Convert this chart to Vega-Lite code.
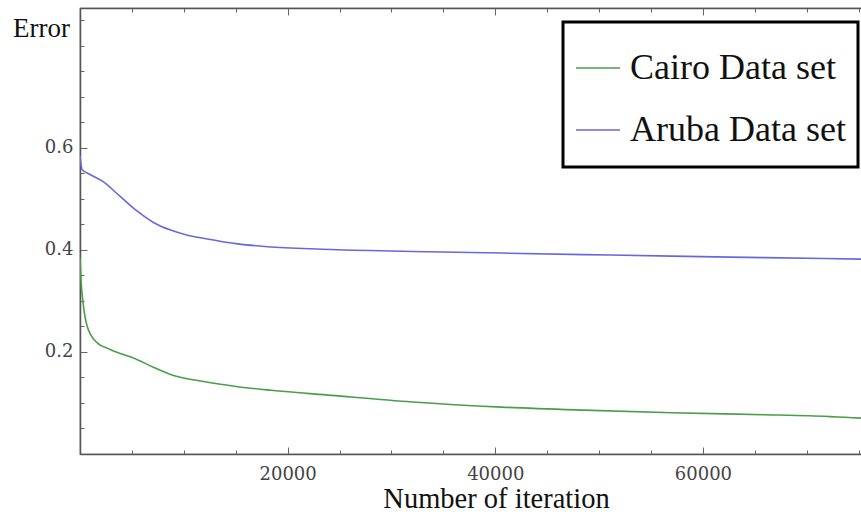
{
  "$schema": "https://vega.github.io/schema/vega-lite/v6.json",
  "width": 789,
  "height": 446,
  "autosize": "none",
  "padding": {"left": 80, "top": 8, "right": 0, "bottom": 66},
  "background": "white",
  "config": {
    "view": {"stroke": "#555555", "strokeWidth": 1.2},
    "font": "Liberation Serif"
  },
  "data": {
    "values": [
      {"series": "Aruba Data set", "iter": 0, "error": 0.585},
      {"series": "Aruba Data set", "iter": 200, "error": 0.558},
      {"series": "Aruba Data set", "iter": 970, "error": 0.548},
      {"series": "Aruba Data set", "iter": 2230, "error": 0.534},
      {"series": "Aruba Data set", "iter": 3870, "error": 0.505},
      {"series": "Aruba Data set", "iter": 5520, "error": 0.476},
      {"series": "Aruba Data set", "iter": 7070, "error": 0.454},
      {"series": "Aruba Data set", "iter": 8720, "error": 0.439},
      {"series": "Aruba Data set", "iter": 10360, "error": 0.429},
      {"series": "Aruba Data set", "iter": 11910, "error": 0.423},
      {"series": "Aruba Data set", "iter": 15200, "error": 0.412},
      {"series": "Aruba Data set", "iter": 18400, "error": 0.406},
      {"series": "Aruba Data set", "iter": 24200, "error": 0.401},
      {"series": "Aruba Data set", "iter": 32000, "error": 0.397},
      {"series": "Aruba Data set", "iter": 40600, "error": 0.394},
      {"series": "Aruba Data set", "iter": 48500, "error": 0.391},
      {"series": "Aruba Data set", "iter": 57000, "error": 0.388},
      {"series": "Aruba Data set", "iter": 66000, "error": 0.385},
      {"series": "Aruba Data set", "iter": 75640, "error": 0.382},
      {"series": "Cairo Data set", "iter": 0, "error": 0.385},
      {"series": "Cairo Data set", "iter": 100, "error": 0.34},
      {"series": "Cairo Data set", "iter": 300, "error": 0.296},
      {"series": "Cairo Data set", "iter": 700, "error": 0.25},
      {"series": "Cairo Data set", "iter": 1600, "error": 0.219},
      {"series": "Cairo Data set", "iter": 2900, "error": 0.205},
      {"series": "Cairo Data set", "iter": 5520, "error": 0.185},
      {"series": "Cairo Data set", "iter": 7070, "error": 0.17},
      {"series": "Cairo Data set", "iter": 8720, "error": 0.156},
      {"series": "Cairo Data set", "iter": 11910, "error": 0.142},
      {"series": "Cairo Data set", "iter": 15200, "error": 0.132},
      {"series": "Cairo Data set", "iter": 18400, "error": 0.125},
      {"series": "Cairo Data set", "iter": 24200, "error": 0.115},
      {"series": "Cairo Data set", "iter": 32000, "error": 0.102},
      {"series": "Cairo Data set", "iter": 40600, "error": 0.092},
      {"series": "Cairo Data set", "iter": 48500, "error": 0.086},
      {"series": "Cairo Data set", "iter": 57000, "error": 0.081},
      {"series": "Cairo Data set", "iter": 66000, "error": 0.077},
      {"series": "Cairo Data set", "iter": 70200, "error": 0.075},
      {"series": "Cairo Data set", "iter": 75640, "error": 0.07}
    ]
  },
  "layer": [
    {
      "mark": {"type": "line", "strokeWidth": 1.6, "interpolate": "monotone", "clip": true},
      "encoding": {
        "x": {
          "field": "iter",
          "type": "quantitative",
          "scale": {"domain": [0, 76000], "nice": false, "zero": false},
          "axis": {
            "orient": "bottom",
            "title": "Number of iteration",
            "titleFont": "Liberation Serif",
            "titleFontSize": 28.5,
            "titleFontWeight": "normal",
            "titleColor": "#111111",
            "titleX": 416,
            "titleY": 53,
            "titleAlign": "center",
            "titleBaseline": "alphabetic",
            "values": [5000, 10000, 15000, 20000, 25000, 30000, 35000, 40000, 45000, 50000, 55000, 60000, 65000, 70000, 75000],
            "format": "d",
            "labelExpr": "datum.value % 20000 === 0 ? datum.label : ''",
            "labelFont": "DejaVu Serif",
            "labelFontSize": 18,
            "labelColor": "#444444",
            "labelPadding": 18,
            "labelFlush": false,
            "labelOverlap": false,
            "domainColor": "#555555",
            "domainWidth": 1.5,
            "tickColor": "#666666",
            "tickWidth": 1,
            "tickSize": {"condition": {"test": "datum.value % 20000 === 0", "value": -7}, "value": -4},
            "grid": false
          }
        },
        "y": {
          "field": "error",
          "type": "quantitative",
          "scale": {"domain": [0, 0.8745], "nice": false},
          "axis": {
            "orient": "left",
            "title": "Error",
            "titleAngle": 0,
            "titleX": -39,
            "titleY": 20,
            "titleAlign": "center",
            "titleBaseline": "middle",
            "titleFont": "Liberation Serif",
            "titleFontSize": 27,
            "titleFontWeight": "normal",
            "titleColor": "#111111",
            "values": [0.05, 0.1, 0.15, 0.2, 0.25, 0.3, 0.35, 0.4, 0.45, 0.5, 0.55, 0.6, 0.65, 0.7, 0.75, 0.8, 0.85],
            "labelExpr": "(abs(datum.value - 0.2) < 0.001 || abs(datum.value - 0.4) < 0.001 || abs(datum.value - 0.6) < 0.001) ? format(datum.value, '.1f') : ''",
            "labelFont": "DejaVu Serif",
            "labelFontSize": 18,
            "labelColor": "#444444",
            "labelPadding": 14,
            "labelOverlap": false,
            "labelFlush": false,
            "domainColor": "#555555",
            "domainWidth": 1.5,
            "tickColor": "#666666",
            "tickWidth": 1,
            "tickSize": {"condition": {"test": "abs(datum.value - 0.2) < 0.001 || abs(datum.value - 0.4) < 0.001 || abs(datum.value - 0.6) < 0.001", "value": -7}, "value": -4},
            "grid": false
          }
        },
        "color": {
          "field": "series",
          "type": "nominal",
          "sort": ["Cairo Data set", "Aruba Data set"],
          "scale": {"domain": ["Cairo Data set", "Aruba Data set"], "range": ["#4a9e4a", "#6868de"]},
          "legend": {
            "orient": "none",
            "legendX": 483,
            "legendY": 14,
            "title": " ",
            "titleFontSize": 2,
            "titlePadding": 7,
            "padding": 12,
            "strokeColor": "#000000",
            "fillColor": "white",
            "symbolType": "stroke",
            "symbolSize": 1936,
            "symbolStrokeWidth": 1.6,
            "clipHeight": 50,
            "labelFont": "Liberation Serif",
            "labelFontSize": 36,
            "labelColor": "#111111",
            "labelOffset": 9,
            "labelLimit": 400,
            "rowPadding": 12,
            "encode": {"legend": {"update": {"strokeWidth": {"value": 3}}}}
          }
        }
      }
    },
    {
      "mark": {"type": "line", "opacity": 0},
      "encoding": {
        "x": {
          "field": "iter",
          "type": "quantitative",
          "axis": {
            "orient": "top",
            "title": null,
            "values": [5000, 10000, 15000, 20000, 25000, 30000, 35000, 40000, 45000, 50000, 55000, 60000, 65000, 70000, 75000],
            "labels": false,
            "domainColor": "#555555",
            "domainWidth": 1.5,
            "tickColor": "#666666",
            "tickWidth": 1,
            "tickSize": {"condition": {"test": "datum.value % 20000 === 0", "value": -7}, "value": -4},
            "grid": false
          }
        },
        "y": {"field": "error", "type": "quantitative", "axis": null},
        "detail": {"field": "series", "type": "nominal"}
      }
    }
  ],
  "resolve": {"axis": {"x": "independent", "y": "independent"}}
}
